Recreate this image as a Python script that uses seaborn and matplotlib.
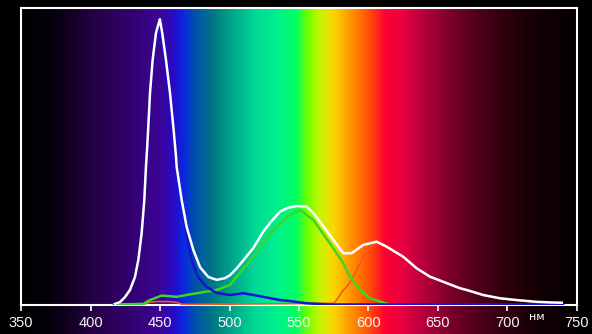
import numpy as np
import pandas as pd
import matplotlib
matplotlib.use("Agg")
import matplotlib.pyplot as plt
import seaborn as sns

# ---- data (wavelength nm, relative intensity % of plot height) ----
white_nm = [417.6, 421.2, 424.8, 428.4, 432.0, 434.4, 436.8, 438.7, 439.9, 440.9, 441.8, 442.8,
            444.7, 447.1, 449.9, 451.6, 454.3, 457.2, 459.6, 461.5, 462.0, 465.6, 469.2, 474.0,
            478.8, 484.7, 490.8, 496.8, 500.4, 505.2, 511.0, 517.1, 524.3, 530.0, 536.3, 542.0,
            548.3, 555.5, 560.0, 565.1, 574.7, 581.9, 587.9, 596.3, 605.9, 613.1, 625.0, 634.7,
            644.2, 656.3, 665.8, 670.6, 682.6, 694.6, 706.6, 721.0, 730.6, 739.0]
white_val = [0.2, 0.8, 2.5, 4.9, 9.3, 15.0, 24.1, 35.2, 46.4, 54.0, 62.0, 71.3,
             82.5, 91.6, 96.2, 91.6, 82.5, 71.3, 59.9, 50.0, 46.4, 35.2, 26.1, 18.4,
             12.6, 9.3, 8.3, 8.9, 9.9, 12.2, 15.5, 19.0, 24.6, 28.0, 31.3, 32.6,
             33.2, 33.0, 31.0, 27.9, 21.8, 17.3, 17.3, 20.1, 21.2, 19.5, 16.1, 12.2,
             9.4, 7.2, 5.5, 4.9, 3.2, 2.1, 1.5, 0.9, 0.7, 0.6]

blue_nm = [417.0, 421.2, 424.8, 428.4, 432.0, 434.4, 436.8, 438.7, 439.9, 440.9, 441.8, 442.8,
           444.7, 447.1, 449.9, 451.6, 454.3, 457.2, 459.6, 461.5, 465.6, 469.2, 472.8, 477.3,
           483.6, 490.8, 500.4, 509.9, 524.1, 536.3, 541.2, 555.5, 572.2, 600.0, 650.0, 700.0, 740.0]
blue_val = [0.0, 0.8, 2.5, 4.9, 9.3, 15.0, 24.0, 34.8, 45.8, 53.2, 61.0, 70.0,
            81.0, 89.5, 93.5, 89.0, 80.0, 69.0, 57.5, 47.5, 32.5, 23.5, 15.0, 9.3,
            5.9, 3.9, 3.2, 3.8, 2.6, 1.5, 1.3, 0.4, 0.0, 0.0, 0.0, 0.0, 0.0]

green_nm = [417.0, 438.0, 442.8, 451.2, 462.0, 476.4, 490.8, 500.4, 505.2, 517.1, 529.1, 541.2,
            550.7, 560.3, 572.3, 581.9, 586.7, 593.9, 601.1, 610.6, 615.5]
green_val = [0.0, 0.2, 1.5, 3.0, 2.6, 3.8, 4.9, 6.6, 9.4, 16.1, 24.0, 29.6,
             31.9, 28.5, 20.6, 13.9, 9.4, 4.9, 2.1, 0.6, 0.0]

red_nm = [438.0, 443.0, 448.0, 456.0, 462.0, 466.0, 574.7, 577.1, 581.9, 584.3, 587.9, 591.5,
          598.7, 603.5, 605.9, 613.1, 625.0, 634.7, 644.2, 656.3, 665.8, 670.6, 682.6, 694.6,
          706.6, 721.0, 730.6, 739.0]
red_val = [0.0, 0.8, 1.0, 1.0, 0.7, 0.0, 0.4, 1.5, 4.9, 6.0, 8.3, 11.6,
           18.4, 20.3, 20.8, 19.3, 16.0, 12.1, 9.3, 7.1, 5.4, 4.8, 3.1, 2.0,
           1.4, 0.8, 0.6, 0.5]

tick_values = [350, 400, 450, 500, 550, 600, 650, 700, 750]
unit_label = "нм"

# ---- spectrum background colours (style) ----
spec_nm = [350, 370, 385, 400, 425, 450, 460, 467, 475, 490, 505, 520, 535, 548, 556, 565,
           575, 585, 595, 605, 612, 625, 640, 660, 680, 700, 720, 750]
spec_rgb = [(0, 0, 0), (5, 0, 12), (18, 0, 35), (35, 0, 65), (50, 0, 105), (60, 5, 150),
            (40, 10, 200), (10, 40, 225), (0, 80, 170), (0, 125, 130), (0, 175, 140),
            (0, 220, 150), (0, 240, 140), (0, 255, 100), (110, 255, 0), (200, 245, 0),
            (250, 215, 0), (255, 160, 0), (255, 110, 0), (255, 50, 20), (255, 0, 50),
            (230, 0, 65), (180, 0, 60), (120, 0, 40), (75, 0, 25), (45, 0, 12),
            (20, 0, 5), (5, 0, 0)]

W, H = 592, 334
fig = plt.figure(figsize=(W / 100, H / 100), dpi=100, facecolor="black")

# background gradient axes (extends under the tick labels)
x0, x1 = 21, 577
ytop, ybase = 8, 304.5
bg = fig.add_axes([x0 / W, 0, (x1 - x0) / W, (H - ytop) / H])
grid = np.linspace(350, 750, 800)
rgb = np.array(spec_rgb, dtype=float) / 255.0
cols = np.stack([np.interp(grid, spec_nm, rgb[:, i]) for i in range(3)], axis=-1)
bg.imshow(cols[np.newaxis, :, :], aspect="auto", extent=[350, 750, 0, 1], interpolation="bilinear")
bg.set_axis_off()

ax = fig.add_axes([x0 / W, (H - ybase) / H, (x1 - x0) / W, (ybase - ytop) / H])
ax.set_facecolor("none")

sns.lineplot(x=red_nm, y=red_val, ax=ax, color="#f05a1e", linewidth=1.2, sort=False, zorder=3)
sns.lineplot(x=green_nm, y=green_val, ax=ax, color="#3cd628", linewidth=1.8, sort=False, zorder=4)
sns.lineplot(x=blue_nm, y=blue_val, ax=ax, color="#1414d2", linewidth=1.8, sort=False, zorder=5)
sns.lineplot(x=white_nm, y=white_val, ax=ax, color="white", linewidth=1.8, sort=False, zorder=6)

ax.set_xlim(350, 750)
ax.set_ylim(0, 100)
ax.set_xticks(tick_values)
ax.set_xticklabels([str(t) for t in tick_values])
ax.set_yticks([])
ax.set_xlabel("")
ax.set_ylabel("")
for s in ax.spines.values():
    s.set_color("white")
    s.set_linewidth(1.5)
    s.set_zorder(2)
ax.tick_params(axis="x", colors="white", length=4, width=1.2, pad=4, labelsize=10.5)
for lab in ax.get_xticklabels():
    lab.set_family("Liberation Sans")
    lab.set_color("#f4f4f4")

fig.text(537 / W, 1 - 317 / H, unit_label, color="white", fontsize=8,
         ha="center", va="center", family="DejaVu Sans")

fig.savefig("out.png", dpi=100, facecolor="black")
